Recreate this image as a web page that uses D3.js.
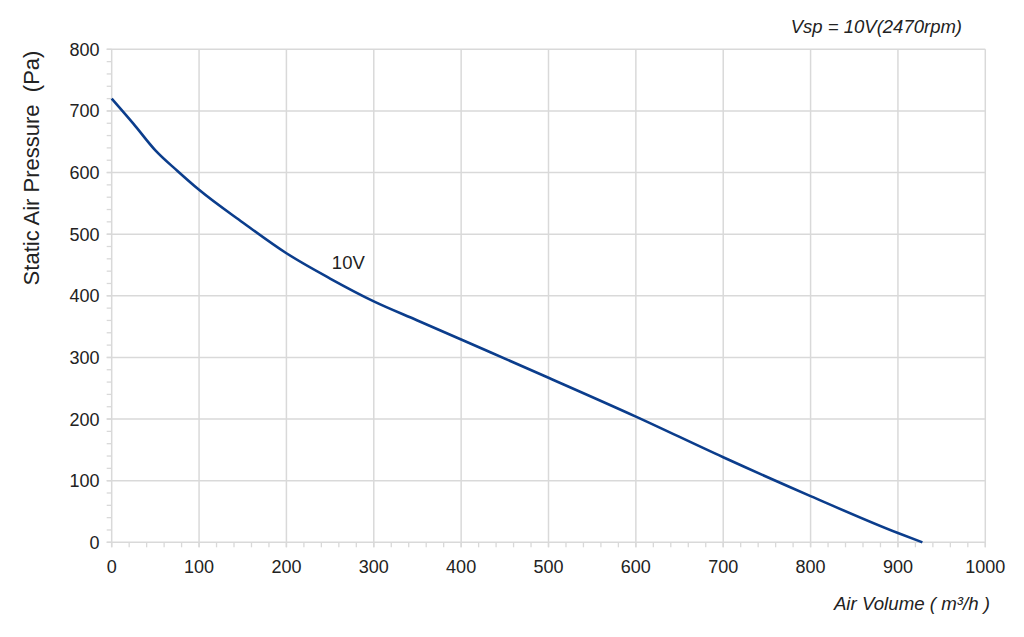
<!DOCTYPE html>
<html>
<head>
<meta charset="utf-8">
<script src="https://d3js.org/d3.v7.min.js"></script>
<style>
  body { margin: 0; background: #fff; }
  text { font-family: "Liberation Sans", Arial, sans-serif; fill: #222; }
</style>
</head>
<body>
<svg id="chart" width="1024" height="637"></svg>
<script>
// air volume (m3/h) and static pressure (Pa)
var airVolume = [0, 25, 50, 75, 100, 150, 200, 250, 300, 350, 400, 500, 600, 700, 800, 900, 928];
var pressure  = [720, 679, 636, 603, 572, 519, 469, 428, 391, 360, 329, 267, 204, 138, 75, 15, 0];
var xTicks = [0, 100, 200, 300, 400, 500, 600, 700, 800, 900, 1000];
var yTicks = [0, 100, 200, 300, 400, 500, 600, 700, 800];
var seriesLabel = "10V";

var data = airVolume.map(function(v, i) { return {x: v, y: pressure[i]}; });

var svg = d3.select("#chart");
var pLeft = 111.7, pRight = 985.3, pTop = 49.3, pBottom = 542.3;

var x = d3.scaleLinear().domain([0, 1000]).range([pLeft, pRight]);
var y = d3.scaleLinear().domain([0, 800]).range([pBottom, pTop]);

var grid = "#d9d9d9";

// minor ticks every 20
var minorX = d3.range(0, 1001, 20);
var minorY = d3.range(0, 801, 20);

svg.append("g").selectAll("line")
  .data(minorX)
  .enter().append("line")
  .attr("x1", d => x(d)).attr("x2", d => x(d))
  .attr("y1", pBottom).attr("y2", pBottom + 5)
  .attr("stroke", grid).attr("stroke-width", 1.3);

svg.append("g").selectAll("line")
  .data(minorY)
  .enter().append("line")
  .attr("x1", pLeft - 5).attr("x2", pLeft)
  .attr("y1", d => y(d)).attr("y2", d => y(d))
  .attr("stroke", grid).attr("stroke-width", 1.3);

// gridlines
svg.append("g").selectAll("line")
  .data(xTicks)
  .enter().append("line")
  .attr("x1", d => x(d)).attr("x2", d => x(d))
  .attr("y1", pTop).attr("y2", pBottom + 5)
  .attr("stroke", grid).attr("stroke-width", 1.5);

svg.append("g").selectAll("line")
  .data(yTicks)
  .enter().append("line")
  .attr("x1", pLeft - 5).attr("x2", pRight)
  .attr("y1", d => y(d)).attr("y2", d => y(d))
  .attr("stroke", grid).attr("stroke-width", 1.5);

// tick labels
svg.append("g").selectAll("text")
  .data(xTicks)
  .enter().append("text")
  .attr("x", d => x(d)).attr("y", 572.5)
  .attr("text-anchor", "middle")
  .style("font-size", "18px")
  .text(d => d);

svg.append("g").selectAll("text")
  .data(yTicks)
  .enter().append("text")
  .attr("x", 99.5).attr("y", d => y(d) + 6.5)
  .attr("text-anchor", "end")
  .style("font-size", "18px")
  .text(d => d);

// curve
var line = d3.line()
  .x(d => x(d.x))
  .y(d => y(d.y))
  .curve(d3.curveMonotoneX);

svg.append("path")
  .datum(data)
  .attr("d", line)
  .attr("fill", "none")
  .attr("stroke", "#0b3d8c")
  .attr("stroke-width", 2.6);

svg.append("text")
  .attr("x", x(252)).attr("y", 268.5)
  .style("font-size", "18.5px")
  .text(seriesLabel);

// axis titles
svg.append("text")
  .attr("transform", "translate(39,168) rotate(-90)")
  .attr("text-anchor", "middle")
  .style("font-size", "22px")
  .attr("xml:space", "preserve")
  .text("Static Air Pressure  (Pa)");

svg.append("text")
  .attr("x", 990).attr("y", 609.5)
  .attr("text-anchor", "end")
  .style("font-size", "18.7px")
  .style("font-style", "italic")
  .text("Air Volume ( m³/h )");

svg.append("text")
  .attr("x", 962).attr("y", 33)
  .attr("text-anchor", "end")
  .style("font-size", "18.5px")
  .style("font-style", "italic")
  .text("Vsp = 10V(2470rpm)");
</script>
</body>
</html>
